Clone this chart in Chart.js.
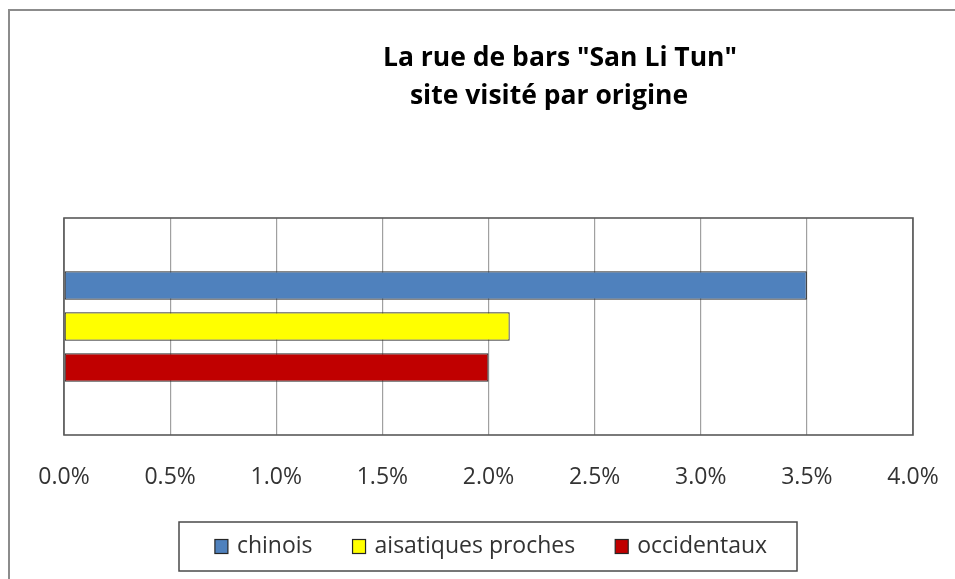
<!DOCTYPE html>
<html lang="fr">
<head>
<meta charset="utf-8">
<title>San Li Tun</title>
<script src="https://cdn.jsdelivr.net/npm/chart.js@4.4.0/dist/chart.umd.min.js"></script>
<style>
  html, body { margin: 0; padding: 0; background: #fff; }
  canvas { display: block; }
</style>
</head>
<body>
<canvas id="chart" width="955" height="579"></canvas>
<script>
// données (en %)
const categories = [''];
const seriesNames = ['chinois', 'aisatiques proches', 'occidentaux'];
const chinois = [3.5];
const aisatiques = [2.1];
const occidentaux = [2.0];
const seriesColors = ['#4F81BD', '#FFFF00', '#C00000'];
const titleLines = ['La rue de bars "San Li Tun"', 'site visité par origine'];
const xMax = 4;
const xStep = 0.5;

const FONT = '"Open Sans", "DejaVu Sans", sans-serif';
Chart.defaults.font.family = FONT;

// cadre général, titre, bordure de la zone de tracé et légende encadrée
const decor = {
    id: 'decor',
    beforeDraw(chart) {
        const ctx = chart.ctx;
        ctx.save();
        ctx.fillStyle = '#fff';
        ctx.fillRect(0, 0, chart.width, chart.height);
        ctx.strokeStyle = '#8c8c8c';
        ctx.lineWidth = 2;
        ctx.strokeRect(9, 10, chart.width + 20, chart.height + 20);
        ctx.restore();
    },
    afterDraw(chart) {
        const ctx = chart.ctx;
        const a = chart.chartArea;
        ctx.save();

        // titre
        ctx.fillStyle = '#000';
        ctx.font = 'bold 26.5px ' + FONT;
        ctx.textAlign = 'center';
        ctx.textBaseline = 'alphabetic';
        ctx.fillText(titleLines[0], 560, 66);
        ctx.fillText(titleLines[1], 549, 104);

        // bordure de la zone de tracé
        ctx.strokeStyle = '#595959';
        ctx.lineWidth = 1.6;
        ctx.strokeRect(a.left, a.top, a.right - a.left, a.bottom - a.top);

        // légende
        const box = { left: 179, top: 522, right: 797, bottom: 571 };
        ctx.strokeStyle = '#4a4a4a';
        ctx.lineWidth = 1.5;
        ctx.strokeRect(box.left, box.top, box.right - box.left, box.bottom - box.top);

        ctx.font = '23px ' + FONT;
        ctx.textAlign = 'left';
        ctx.textBaseline = 'middle';
        const sw = 13, sh = 14, gapText = 9, gapItem = 40;
        const items = chart.data.datasets.map(ds => ({
            label: ds.label,
            color: ds.backgroundColor,
            w: sw + gapText + ctx.measureText(ds.label).width
        }));
        const total = items.reduce((s, it) => s + it.w, 0) + gapItem * (items.length - 1);
        let x = (box.left + box.right) / 2 - total / 2 + 3;
        const cy = (box.top + box.bottom) / 2;
        items.forEach(it => {
            ctx.fillStyle = it.color;
            ctx.fillRect(x, cy - sh / 2, sw, sh);
            ctx.strokeStyle = '#262626';
            ctx.lineWidth = 1.2;
            ctx.strokeRect(x, cy - sh / 2, sw, sh);
            ctx.fillStyle = '#333';
            ctx.fillText(it.label, x + sw + gapText, cy);
            x += it.w + gapItem;
        });
        ctx.restore();
    }
};

const seriesData = [chinois, aisatiques, occidentaux];

new Chart(document.getElementById('chart'), {
    type: 'bar',
    data: {
        labels: categories,
        datasets: seriesNames.map((name, i) => ({
            label: name,
            data: seriesData[i],
            backgroundColor: seriesColors[i],
            borderColor: '#2b2b2b',
            borderWidth: 1.2,
            borderSkipped: false,
            categoryPercentage: 0.567,
            barPercentage: 0.69
        }))
    },
    options: {
        indexAxis: 'y',
        responsive: false,
        animation: false,
        devicePixelRatio: 1,
        layout: { padding: { top: 218, left: 64, right: 42, bottom: 84 } },
        plugins: {
            legend: { display: false },
            title: { display: false },
            tooltip: { enabled: false }
        },
        scales: {
            x: {
                min: 0,
                max: xMax,
                afterFit(scale) {
                    scale.height = 60;
                    scale.paddingLeft = 0;
                    scale.paddingRight = 0;
                },
                border: { display: false },
                grid: { color: '#a0a0a0', lineWidth: 1.2, drawTicks: false },
                ticks: {
                    stepSize: xStep,
                    padding: 29,
                    color: '#333',
                    font: { size: 23 },
                    callback: v => v.toFixed(1) + '%'
                }
            },
            y: { display: false }
        }
    },
    plugins: [decor]
});
</script>
</body>
</html>
